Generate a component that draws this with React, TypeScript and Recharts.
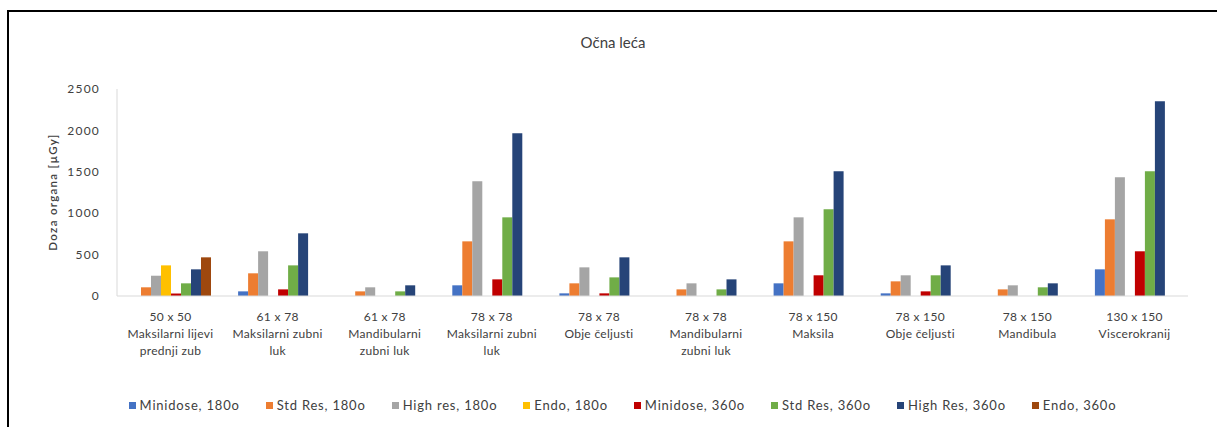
import React from "react";
import { Bar, BarChart, Legend, XAxis, YAxis } from "recharts";

const categories = [
  "50 x 50\nMaksilarni lijevi\nprednji zub",
  "61 x 78\nMaksilarni zubni\nluk",
  "61 x 78\nMandibularni\nzubni luk",
  "78 x 78\nMaksilarni zubni\nluk",
  "78 x 78\nObje čeljusti",
  "78 x 78\nMandibularni\nzubni luk",
  "78 x 150\nMaksila",
  "78 x 150\nObje čeljusti",
  "78 x 150\nMandibula",
  "130 x 150\nViscerokranij",
];

const seriesNames = [
  "Minidose, 180o",
  "Std Res, 180o",
  "High res, 180o",
  "Endo, 180o",
  "Minidose, 360o",
  "Std Res, 360o",
  "High Res, 360o",
  "Endo, 360o",
];

const seriesColors = ["#4472C4", "#ED7D31", "#A5A5A5", "#FFC000", "#C00000", "#70AD47", "#264478", "#9E480E"];

const minidose180 = [0, 56, 0, 129, 32, 0, 153, 32, 0, 322];
const stdRes180 = [105, 274, 56, 660, 153, 80, 660, 177, 80, 926];
const highRes180 = [245, 540, 105, 1385, 346, 153, 950, 250, 129, 1433];
const endo180 = [370, 0, 0, 0, 0, 0, 0, 0, 0, 0];
const minidose360 = [30, 80, 0, 201, 32, 0, 250, 56, 0, 540];
const stdRes360 = [153, 370, 56, 950, 225, 80, 1047, 250, 105, 1506];
const highRes360 = [322, 757, 129, 1965, 467, 201, 1506, 370, 153, 2351];
const endo360 = [467, 0, 0, 0, 0, 0, 0, 0, 0, 0];

const yTicks = [0, 500, 1000, 1500, 2000, 2500];

const seriesValues = [minidose180, stdRes180, highRes180, endo180, minidose360, stdRes360, highRes360, endo360];

const chartData = categories.map((name, i) => {
  const row: Record<string, string | number> = { name };
  seriesNames.forEach((s, k) => {
    row[s] = seriesValues[k][i];
  });
  return row;
});

const textColor = "#404040";
const font = "Lato, 'Open Sans', sans-serif";

function CategoryTick(props: any) {
  const { x, y, payload } = props;
  const lines = String(payload.value).split("\n");
  return (
    <text x={x} y={y} textAnchor="middle" fill={textColor} fontSize={12} fontFamily={font} letterSpacing={0.3}>
      {lines.map((line, i) => (
        <tspan key={i} x={x} dy={i === 0 ? 17 : 17}>
          {line}
        </tspan>
      ))}
    </text>
  );
}

function LegendRow(props: any) {
  // keep the series order instead of the alphabetical one
  const items = [...(props.payload ?? [])].sort(
    (a: any, b: any) => seriesNames.indexOf(a.value) - seriesNames.indexOf(b.value),
  );
  return (
    <div style={{ display: "flex", justifyContent: "center", gap: 26, height: 20, alignItems: "center" }}>
      {items.map((item: any) => (
        <div key={item.value} style={{ display: "flex", alignItems: "center", gap: 4 }}>
          <span style={{ width: 7, height: 7, background: item.color, display: "inline-block" }} />
          <span style={{ fontSize: 13, color: textColor, fontFamily: font, letterSpacing: 0.8 }}>{item.value}</span>
        </div>
      ))}
    </div>
  );
}

export default function App() {
  return (
    <div
      style={{
        position: "absolute",
        left: 7,
        top: 10,
        width: 1208,
        height: 415,
        borderTop: "2px solid #000",
        borderLeft: "2px solid #000",
        background: "#fff",
        fontFamily: font,
      }}
    >
      <div
        style={{
          position: "absolute",
          left: 0,
          top: 21,
          width: 1208,
          textAlign: "center",
          fontSize: 15,
          lineHeight: "18px",
          color: textColor,
        }}
      >
        Očna leća
      </div>
      <div
        style={{
          position: "absolute",
          left: 43,
          top: 180,
          transform: "translate(-50%, -50%) rotate(-90deg)",
          whiteSpace: "nowrap",
          fontSize: 11.5,
          fontWeight: 600,
          color: textColor,
          letterSpacing: 1.3,
        }}
      >
        Doza organa [µGy]
      </div>
      <BarChart
        width={1208}
        height={415}
        data={chartData}
        margin={{ top: 77, right: 29, left: 48, bottom: 12 }}
        barGap={0}
        barSize={10}
      >
        <XAxis
          dataKey="name"
          interval={0}
          height={99}
          tick={<CategoryTick />}
          tickLine={false}
          axisLine={{ stroke: "#D9D9D9" }}
        />
        <YAxis
          width={60}
          domain={[0, 2500]}
          ticks={yTicks}
          interval={0}
          tickLine={false}
          tickMargin={11}
          axisLine={{ stroke: "#D9D9D9" }}
          tick={{ fill: textColor, fontSize: 12, fontFamily: font, letterSpacing: 1.2 }}
        />
        <Legend verticalAlign="bottom" align="center" content={<LegendRow />} />
        {seriesNames.map((s, k) => (
          <Bar key={s} dataKey={s} fill={seriesColors[k]} isAnimationActive={false} />
        ))}
      </BarChart>
    </div>
  );
}
